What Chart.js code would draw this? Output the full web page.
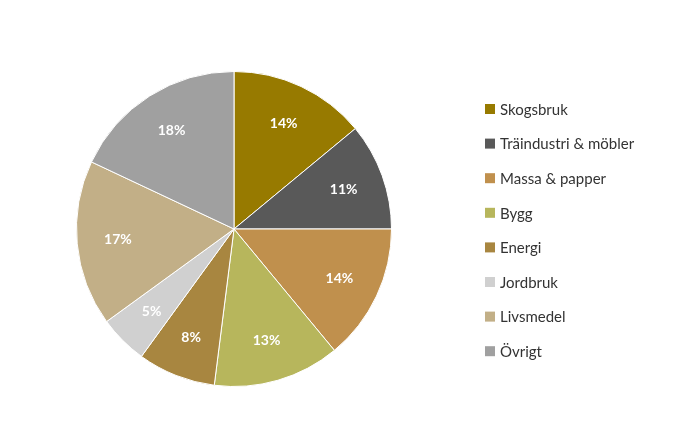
<!DOCTYPE html>
<html><head><meta charset="utf-8">
<script src="https://cdn.jsdelivr.net/npm/chart.js"></script>
<style>body{margin:0;background:#fff}</style></head>
<body><canvas id="c" width="698" height="421"></canvas>
<script>
const categories=["Skogsbruk","Träindustri & möbler","Massa & papper","Bygg","Energi","Jordbruk","Livsmedel","Övrigt"];
const values=[14,11,14,13,8,5,17,18];
const colors=["#977A00","#595959","#C0904D","#B7B65C","#A88640","#D0D0D0","#C2AF87","#A0A0A0"];
const labelsPlugin={id:'lbl',afterDatasetsDraw(chart){
 const ctx=chart.ctx;const meta=chart.getDatasetMeta(0);
 ctx.save();ctx.font="bold 14px Lato, 'Open Sans', sans-serif";ctx.fillStyle="#fff";ctx.textAlign="center";ctx.textBaseline="middle";
 meta.data.forEach((a,i)=>{const m=(a.startAngle+a.endAngle)/2;const r=a.outerRadius*0.74;
  ctx.fillText(values[i]+"%",a.x+Math.cos(m)*r,a.y+Math.sin(m)*r);});
 // legend
 ctx.font="15px Lato, 'Open Sans', sans-serif";ctx.textAlign="left";
 categories.forEach((c,i)=>{const y=109+i*34.6;ctx.fillStyle=colors[i];ctx.fillRect(485,y-5,10,10);
  ctx.fillStyle="#333";ctx.fillText(c,500,y+1);});
 ctx.restore();}};
new Chart(document.getElementById('c'),{type:'pie',
 data:{labels:categories,datasets:[{data:values,backgroundColor:colors,borderColor:"#fff",borderWidth:1}]},
 options:{responsive:false,animation:false,layout:{padding:{left:76,top:71,bottom:34,right:306}},
  plugins:{legend:{display:false},tooltip:{enabled:false}}},
 plugins:[labelsPlugin]});
</script></body></html>
